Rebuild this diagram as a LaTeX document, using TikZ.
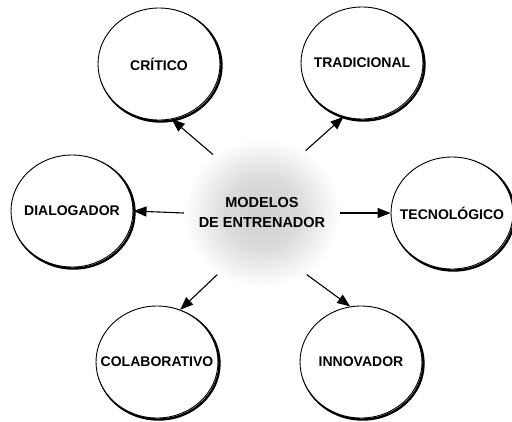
\documentclass[tikz,border=0pt]{standalone}
\usepackage{fontspec}
\setmainfont{Liberation Sans}
\usepackage{tikz}
\usetikzlibrary{shapes.geometric,arrows.meta,shadows}

\pgfdeclareradialshading{nube}{\pgfpoint{0bp}{0bp}}{color(0bp)=(black!19); color(12bp)=(black!14); color(25bp)=(white); color(50bp)=(white)}

\begin{document}
\begin{tikzpicture}[x=1pt, y=-1pt,
    modelo/.style={ellipse, draw, line width=0.9pt, fill=white, inner xsep=-20pt, inner ysep=0pt,
        minimum width=122pt, minimum height=112pt,
        font=\fontsize{14}{16}\selectfont\bfseries,
        drop shadow={shadow xshift=1.5pt, shadow yshift=-1.5pt, fill=none, draw=black, line width=2.4pt, opacity=1}},
    flecha/.style={-{Triangle[length=13pt, width=10pt]}, line width=1.1pt}]
    \useasboundingbox (0,0) rectangle (512,421);
    % centro
    \node (modelos) [ellipse, inner xsep=-30pt, inner ysep=0pt, minimum width=156pt, minimum height=150pt,
        shading=nube, align=center,
        font=\fontsize{14.5}{20}\selectfont\bfseries] at (262,213) {MODELOS\\DE ENTRENADOR};
    % modelos
    \node (critico) [modelo] at (159,64) {CRÍTICO};
    \node (tradicional) [modelo] at (362,63) {TRADICIONAL};
    \node (dialogador) [modelo] at (72,211) {DIALOGADOR};
    \node (tecnologico) [modelo] at (452,213) {TECNOLÓGICO};
    \node (colaborativo) [modelo] at (157,362) {COLABORATIVO};
    \node (innovador) [modelo] at (361,362) {INNOVADOR};
    % flechas
    \draw [flecha] (modelos.130) -- (critico.-77);
    \draw [flecha] (modelos.55) -- (tradicional.-109);
    \draw [flecha] (modelos.180) -- (dialogador.0);
    \draw [flecha] (modelos.0) -- (tecnologico.180);
    \draw [flecha] (modelos.234) -- (colaborativo.66);
    \draw [flecha] (modelos.-54) -- (innovador.101);
\end{tikzpicture}
\end{document}
